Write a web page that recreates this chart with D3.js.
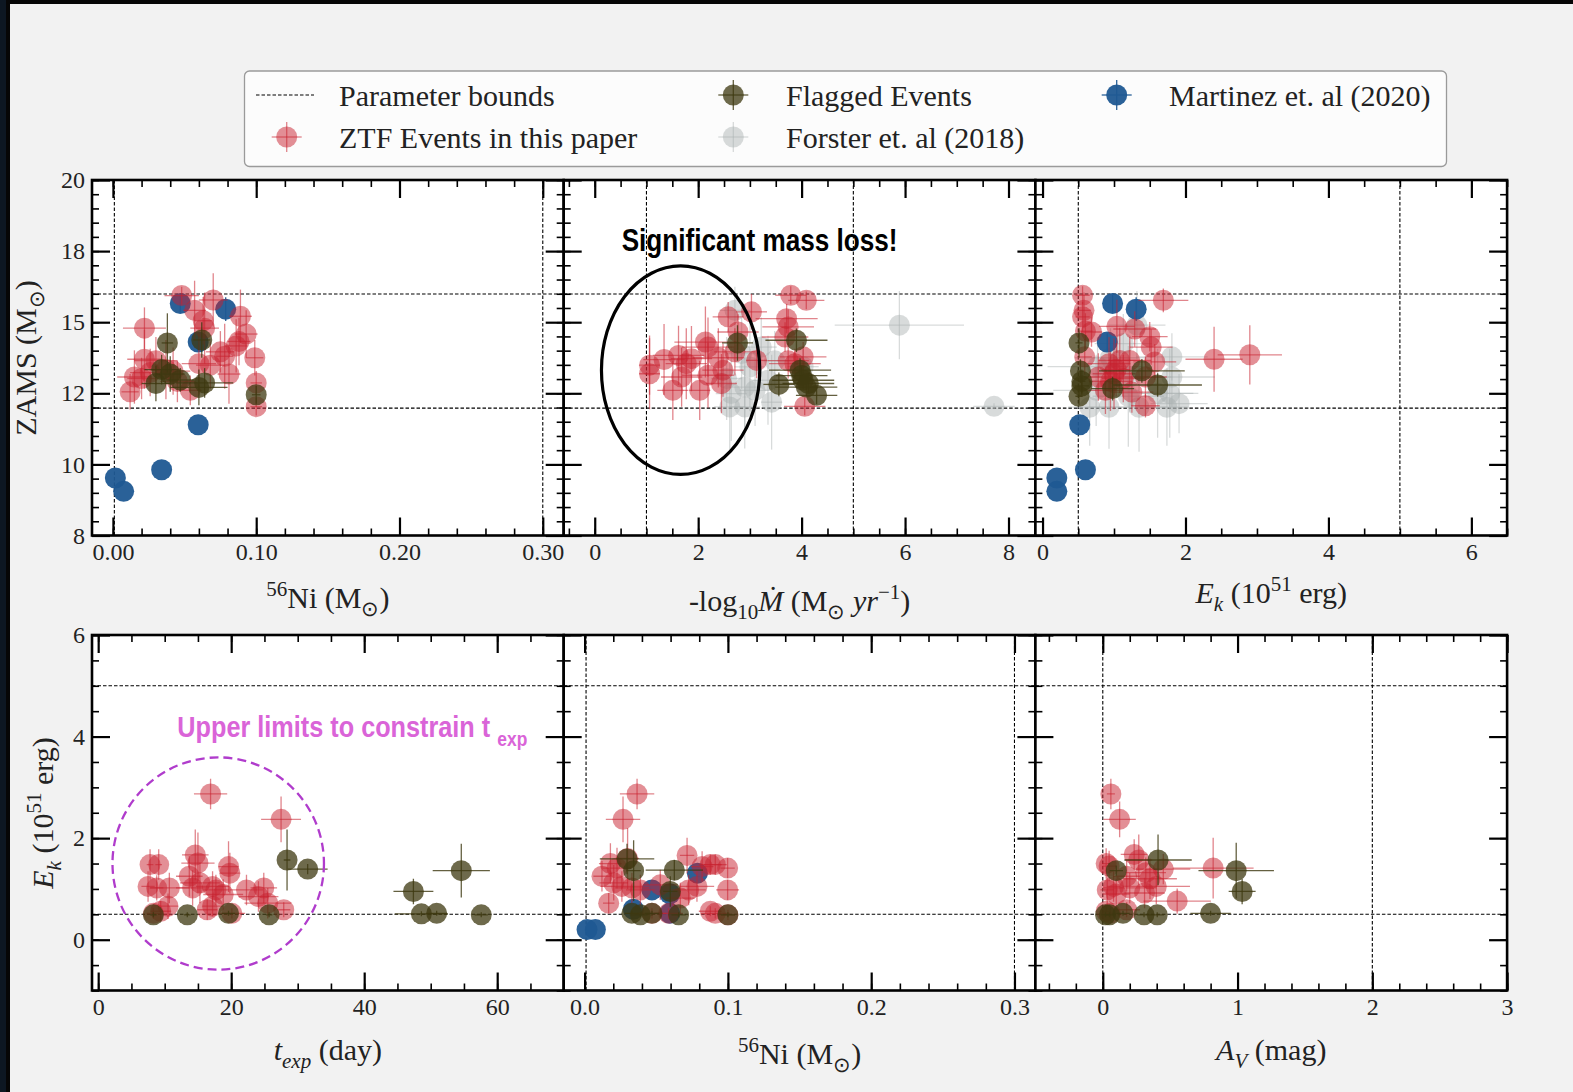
<!DOCTYPE html>
<html>
<head>
<meta charset="utf-8">
<script src="https://cdn.jsdelivr.net/npm/d3@7"></script>
<style>
  html, body { margin: 0; padding: 0; background: #f2f2f2; }
  svg { display: block; }
</style>
</head>
<body>
<svg id="fig" width="1573" height="1092"></svg>
<script>
// ---------------- data ----------------
// Martinez et al. (2020): one entry per event
const martinezNi      = [0.0017, 0.0075, 0.034, 0.0595, 0.047, 0.0787, 0.0595];
const martinezZams    = [9.94, 9.49, 10.22, 11.74, 15.83, 15.64, 14.53];
const martinezZamsErr = [0, 0, 0, 0, 0.3, 0.4, 0.3];
const martinezEk      = [0.20, 0.20, 0.60, 0.52, 0.98, 1.31, 0.905];

// rows: [x, y, xErr, yErr]
// ZAMS vs 56Ni
const ztfNiZams = [
  [0.048, 16.1, 0.012, 0.3], [0.070, 15.95, 0.010, 0.9], [0.057, 15.6, 0.008, 1.0],
  [0.089, 15.4, 0.008, 0.9], [0.022, 15.0, 0.015, 0.7], [0.064, 15.0, 0.010, 1.2],
  [0.093, 14.8, 0.008, 0.8], [0.088, 14.55, 0.008, 0.8], [0.075, 14.2, 0.010, 0.7],
  [0.022, 13.95, 0.012, 1.0], [0.030, 13.9, 0.015, 0.8], [0.099, 14.0, 0.006, 0.6],
  [0.060, 13.8, 0.012, 1.0], [0.068, 13.75, 0.010, 0.8], [0.078, 14.05, 0.006, 1.1],
  [0.081, 13.45, 0.008, 1.0], [0.015, 13.35, 0.012, 0.9], [0.037, 13.6, 0.010, 1.0],
  [0.042, 13.55, 0.012, 0.8], [0.012, 12.85, 0.006, 0.6], [0.054, 12.9, 0.008, 0.5],
  [0.100, 13.15, 0.004, 0.4], [0.100, 12.35, 0.004, 0.3], [0.026, 13.5, 0.014, 0.8],
  [0.020, 13.3, 0.010, 0.7], [0.045, 13.2, 0.012, 0.7], [0.086, 14.4, 0.008, 0.9],
  [0.063, 15.25, 0.006, 0.8]
];
const flaggedNiZams = [
  [0.038, 14.5, 0.004, 1.0], [0.062, 14.6, 0.006, 0.6], [0.034, 13.6, 0.012, 0.5],
  [0.030, 13.13, 0.010, 0.6], [0.047, 13.25, 0.010, 0.4], [0.060, 13.0, 0.020, 0.6],
  [0.064, 13.15, 0.020, 0.5], [0.100, 12.75, 0.003, 0.3], [0.040, 13.45, 0.010, 0.6]
];

// ZAMS vs -log10 Mdot
const ztfMdotZams = [
  [3.79, 16.11, 0.3, 0.3], [4.09, 15.94, 0.35, 0.3], [3.03, 15.55, 0.3, 0.6],
  [2.58, 15.38, 0.3, 0.5], [3.71, 15.32, 0.6, 0.5], [3.74, 15.04, 0.5, 0.6],
  [2.77, 14.87, 0.4, 0.6], [3.68, 14.70, 0.45, 0.5], [2.14, 14.53, 0.6, 1.2],
  [2.19, 14.36, 0.5, 1.0], [2.71, 14.2, 0.4, 0.8], [1.34, 13.94, 0.4, 1.2],
  [1.62, 14.08, 0.5, 1.0], [1.87, 13.97, 0.4, 1.1], [2.39, 14.0, 0.5, 1.0],
  [3.13, 13.91, 0.2, 0.6], [4.03, 14.03, 0.45, 0.5], [3.74, 13.9, 0.4, 0.6],
  [1.06, 13.75, 0.2, 1.0], [1.06, 13.46, 0.2, 1.2], [1.77, 13.8, 0.4, 1.2],
  [1.68, 13.35, 0.4, 1.0], [2.19, 13.41, 0.5, 1.1], [2.48, 13.58, 0.4, 0.9],
  [2.45, 13.13, 0.3, 1.0], [1.51, 12.9, 0.3, 1.0], [2.03, 12.9, 0.2, 1.0],
  [4.06, 12.36, 0.4, 0.3], [3.87, 13.8, 0.5, 0.5]
];
const flaggedMdotZams = [
  [2.76, 14.5, 0.3, 0.6], [3.90, 14.59, 0.6, 0.4], [3.56, 13.1, 0.3, 0.4],
  [3.97, 13.58, 0.6, 0.4], [4.03, 13.24, 0.6, 0.3], [4.09, 13.01, 0.6, 0.3],
  [4.29, 12.73, 0.4, 0.3], [4.00, 13.4, 0.5, 0.3], [4.13, 13.13, 0.5, 0.3]
];
const forsterMdotZams = [
  [5.89, 15.1, 1.25, 1.15], [7.72, 12.36, 0.4, 0.1],
  [2.71, 15.6, 0.3, 0.8], [2.84, 14.14, 0.3, 1.2], [3.00, 13.69, 0.3, 1.5],
  [3.22, 14.36, 0.3, 1.0], [3.35, 13.24, 0.3, 1.5], [2.90, 13.01, 0.3, 1.5],
  [2.64, 12.79, 0.3, 1.6], [2.61, 12.34, 0.3, 1.5], [2.90, 12.34, 0.3, 1.4],
  [3.42, 12.5, 0.2, 1.6], [3.10, 12.9, 0.3, 1.2], [3.48, 13.9, 0.3, 1.0],
  [4.03, 13.7, 0.3, 0.6], [2.55, 13.3, 0.3, 1.4]
];

// ZAMS vs Ek
const ztfEkZams = [
  [0.56, 16.11, 0.1, 0.3], [1.69, 15.94, 0.35, 0.4], [0.58, 15.6, 0.1, 0.6],
  [0.56, 15.38, 0.1, 0.5], [0.685, 14.87, 0.15, 0.5], [1.04, 15.06, 0.25, 0.9],
  [1.29, 14.97, 0.3, 0.6], [1.50, 14.71, 0.25, 0.5], [1.52, 14.36, 0.3, 0.6],
  [0.59, 14.03, 0.1, 0.6], [2.40, 13.95, 0.4, 1.1], [2.90, 14.1, 0.45, 1.0],
  [0.93, 13.8, 0.3, 0.9], [1.08, 13.91, 0.3, 1.1], [1.22, 13.91, 0.3, 0.8],
  [1.57, 13.86, 0.3, 0.6], [0.78, 13.35, 0.2, 0.8], [1.00, 13.46, 0.3, 1.2],
  [1.13, 13.3, 0.3, 0.8], [0.88, 12.9, 0.25, 0.8], [1.25, 12.84, 0.3, 0.7],
  [1.44, 13.35, 0.3, 0.7], [1.44, 12.38, 0.2, 0.4], [1.03, 13.6, 0.2, 0.9],
  [0.60, 14.9, 0.1, 0.6], [0.95, 13.2, 0.3, 1.0]
];
const flaggedEkZams = [
  [0.51, 14.5, 0.05, 0.5], [0.53, 13.55, 0.05, 0.4], [0.55, 13.2, 0.05, 0.4],
  [0.51, 12.7, 0.05, 0.3], [0.98, 12.96, 0.3, 0.4], [1.39, 13.56, 0.6, 0.4],
  [1.61, 13.08, 0.62, 0.4], [0.55, 13.05, 0.1, 0.3]
];
const forsterEkZams = [
  [0.66, 12.33, 0.3, 1.3], [0.93, 12.33, 0.3, 1.4], [1.35, 12.33, 0.4, 1.5],
  [1.74, 12.33, 0.3, 1.3], [1.91, 12.45, 0.4, 1.0], [1.81, 14.03, 0.5, 0.8],
  [1.81, 13.35, 0.6, 1.0], [1.61, 12.8, 0.5, 1.5], [1.22, 13.35, 0.6, 1.2],
  [1.13, 14.48, 0.4, 1.0], [0.75, 12.9, 0.6, 1.2], [1.32, 15.1, 0.4, 1.15],
  [0.77, 13.7, 0.7, 1.0], [1.78, 12.8, 0.4, 1.5], [0.95, 14.0, 0.5, 1.0],
  [1.20, 12.7, 0.5, 1.7]
];

// Ek vs t_exp
const ztfTexpEk = [
  [16.9, 2.87, 2.5, 0.3], [27.5, 2.37, 3.0, 0.45], [7.8, 1.48, 0.5, 0.3],
  [9.1, 1.48, 0.5, 0.3], [14.6, 1.67, 2.0, 0.5], [15.0, 1.51, 2.5, 0.6],
  [19.6, 1.44, 1.5, 0.5], [19.8, 1.31, 1.5, 0.4], [7.5, 1.05, 1.0, 0.3],
  [8.8, 1.02, 1.0, 0.25], [10.7, 1.02, 3.0, 0.3], [13.7, 1.25, 2.0, 0.4],
  [14.2, 1.02, 2.5, 0.35], [15.3, 1.12, 3.0, 0.4], [17.2, 1.05, 2.5, 0.3],
  [17.7, 0.98, 2.0, 0.3], [18.8, 0.89, 3.0, 0.3], [22.3, 0.98, 2.5, 0.3],
  [24.9, 1.02, 2.0, 0.3], [24.1, 0.85, 3.0, 0.3], [25.5, 0.72, 3.5, 0.3],
  [10.5, 0.66, 1.5, 0.25], [9.4, 0.56, 1.5, 0.2], [16.4, 0.59, 1.5, 0.2],
  [17.2, 0.66, 1.5, 0.2], [27.9, 0.59, 1.0, 0.15], [20.1, 0.52, 2.0, 0.1],
  [8.3, 0.52, 1.0, 0.1]
];
const flaggedTexpEk = [
  [8.3, 0.49, 0.5, 0.05], [13.4, 0.49, 0.5, 0.05], [19.6, 0.52, 1.0, 0.05],
  [25.7, 0.49, 0.5, 0.05], [28.4, 1.57, 0.5, 0.6], [31.5, 1.39, 3.0, 0.1],
  [47.4, 0.95, 3.0, 0.25], [48.6, 0.51, 4.0, 0.05], [50.9, 0.52, 1.5, 0.05],
  [54.6, 1.36, 4.3, 0.53], [57.6, 0.49, 1.0, 0.05]
];

// Ek vs 56Ni
const ztfNiEk = [
  [0.0366, 2.87, 0.012, 0.3], [0.0268, 2.37, 0.012, 0.45], [0.0715, 1.66, 0.005, 0.35],
  [0.0121, 1.25, 0.006, 0.3], [0.0168, 0.72, 0.004, 0.2], [0.0226, 1.41, 0.010, 0.4],
  [0.0203, 1.12, 0.010, 0.35], [0.0260, 1.05, 0.015, 0.3], [0.0330, 1.02, 0.012, 0.3],
  [0.0389, 0.98, 0.010, 0.3], [0.0528, 1.08, 0.012, 0.3], [0.0668, 0.82, 0.010, 0.3],
  [0.0726, 0.98, 0.012, 0.3], [0.0784, 1.05, 0.012, 0.3], [0.0820, 1.44, 0.008, 0.3],
  [0.0877, 1.48, 0.008, 0.2], [0.0912, 1.48, 0.008, 0.2], [0.0998, 1.41, 0.005, 0.2],
  [0.0998, 0.98, 0.008, 0.2], [0.0877, 0.56, 0.008, 0.1], [0.0912, 0.52, 0.010, 0.1],
  [0.1000, 0.49, 0.005, 0.1], [0.0470, 0.52, 0.010, 0.1], [0.0586, 0.52, 0.010, 0.1],
  [0.0180, 1.50, 0.008, 0.4], [0.0300, 1.60, 0.008, 0.6]
];
const flaggedNiEk = [
  [0.0296, 1.59, 0.019, 0.3], [0.0342, 1.36, 0.005, 0.6], [0.0626, 1.37, 0.020, 0.2],
  [0.0598, 0.95, 0.005, 0.3], [0.0330, 0.52, 0.005, 0.05], [0.0389, 0.49, 0.005, 0.05],
  [0.0656, 0.49, 0.005, 0.05], [0.1000, 0.49, 0.005, 0.05], [0.0470, 0.52, 0.005, 0.05]
];

// Ek vs A_V
const ztfAvEk = [
  [0.060, 2.87, 0.03, 0.3], [0.125, 2.37, 0.12, 0.35], [0.233, 1.68, 0.10, 0.3],
  [0.267, 1.57, 0.10, 0.5], [0.047, 1.45, 0.05, 0.3], [0.449, 1.39, 0.20, 0.3],
  [0.819, 1.41, 0.30, 0.6], [0.319, 1.32, 0.15, 0.3], [0.177, 1.25, 0.10, 0.3],
  [0.033, 0.98, 0.05, 0.3], [0.080, 1.05, 0.05, 0.3], [0.200, 1.02, 0.20, 0.3],
  [0.310, 0.92, 0.15, 0.3], [0.397, 1.05, 0.25, 0.35], [0.552, 0.76, 0.25, 0.25],
  [0.025, 0.56, 0.03, 0.1], [0.056, 0.52, 0.03, 0.1], [0.177, 0.59, 0.10, 0.15],
  [0.025, 1.50, 0.03, 0.3], [0.100, 0.90, 0.10, 0.3], [0.350, 1.20, 0.20, 0.4]
];
const flaggedAvEk = [
  [0.410, 1.57, 0.25, 0.5], [0.990, 1.36, 0.28, 0.55], [1.034, 0.95, 0.10, 0.25],
  [0.800, 0.52, 0.15, 0.05], [0.306, 0.49, 0.05, 0.05], [0.404, 0.49, 0.05, 0.05],
  [0.150, 0.52, 0.05, 0.05], [0.020, 0.49, 0.03, 0.05], [0.100, 1.36, 0.05, 0.1],
  [0.050, 0.49, 0.03, 0.05]
];

// axis limits, ticks and parameter bounds
const niDomain   = [-0.0146, 0.3146];
const zamsDomain = [8, 20];
const mdotDomain = [-0.6, 8.52];
const ekXDomain  = [-0.1, 6.5];
const texpDomain = [-0.93, 70];
const ekDomain   = [-1, 6];
const avDomain   = [-0.5, 3.0];

const niTicks   = [0, 0.1, 0.2, 0.3];
const mdotTicks = [0, 2, 4, 6, 8];
const ekXTicks  = [0, 2, 4, 6];
const texpTicks = [0, 20, 40, 60];
const avTicks   = [0, 1, 2, 3];
const ekTicks   = [0, 2, 4, 6];
const zamsTicks = [8, 10.4, 12.8, 15.2, 17.6, 20];
const zamsTickLabels = ["8", "10", "12", "15", "18", "20"];

const niBounds   = [0.001, 0.3];
const zamsBounds = [12.3, 16.15];
const mdotBounds = [1, 5];
const ekBounds   = [0.5, 5];
const avBounds   = [0, 2];

const legendLabels = ["Parameter bounds", "ZTF Events in this paper", "Flagged Events",
                      "Forster et. al (2018)", "Martinez et. al (2020)"];

// ---------------- styles ----------------
const serif = "'Liberation Serif','Times New Roman',serif";
const sansBold = "'Liberation Sans',Arial,sans-serif";
const styles = {
  ztf:      { color: "#c8202e", alpha: 0.5,  lineAlpha: 0.55 },
  flagged:  { color: "#3d3810", alpha: 0.75, lineAlpha: 0.8 },
  forster:  { color: "#a9b0b0", alpha: 0.45, lineAlpha: 0.45 },
  martinez: { color: "#1f5892", alpha: 0.95, lineAlpha: 0.95 }
};
const R = 10.5;

const martinezNiZams = martinezNi.map((v, i) => [v, martinezZams[i], 0, martinezZamsErr[i]]);
const martinezEkZams = martinezEk.map((v, i) => [v, martinezZams[i], 0, martinezZamsErr[i]]);
const martinezNiEk   = martinezNi.map((v, i) => [v, martinezEk[i], 0, 0]);

// ---------------- layout ----------------
const plotLeft = 92, colW = 471.7, rowTop = [180, 635], rowH = 355.5;

const svg = d3.select("#fig");
svg.append("rect").attr("width", 1573).attr("height", 1092).attr("fill", "#0d1722");
svg.append("rect").attr("x", 6).attr("y", 0).attr("width", 1567).attr("height", 1092).attr("fill", "#060606");
svg.append("rect").attr("x", 10).attr("y", 4).attr("width", 1563).attr("height", 1088).attr("fill", "#f2f2f2");

// mixed-style text: parts are [string, flags] with flags among "i", "sub", "sup"
function rich(sel, parts, size) {
  let shift = 0;
  parts.forEach(([str, flags = ""]) => {
    const f = flags.split(" ");
    const isSub = f.includes("sub"), isSup = f.includes("sup");
    const target = isSub ? size * 0.25 : isSup ? -size * 0.4 : 0;
    sel.append("tspan").text(str)
      .attr("dy", target - shift)
      .attr("font-size", (isSub || isSup) ? size * 0.7 : size)
      .attr("font-style", f.includes("i") ? "italic" : "normal");
    shift = target;
  });
}

// bold condensed annotation: horizontally squeezed to a given width
function condensed(x0, y0, str, size, width, color) {
  const g = svg.append("g").attr("transform", `translate(${x0},${y0})`);
  const t = g.append("text").attr("font-family", sansBold).attr("font-weight", "bold")
    .attr("font-size", size).attr("fill", color).text(str);
  const natural = t.node().getComputedTextLength();
  t.attr("transform", `scale(${width / natural},1)`);
  return g;
}

const niTitle = [["56", "sup"], ["Ni (M"], ["\u2299", "sub"], [")"]];
const ekTitle = [["E", "i"], ["k", "i sub"], [" (10"], ["51", "sup"], [" erg)"]];

const panels = [
  { row: 0, col: 0, xDomain: niDomain, yDomain: zamsDomain, xTicks: niTicks, xFmt: d3.format(".2f"), xMinor: 0.02,
    yTicks: zamsTicks, yMinor: 0.48, yLabels: zamsTickLabels, xBounds: niBounds, yBounds: zamsBounds,
    title: niTitle, titleY: 608,
    series: [[martinezNiZams, "martinez"], [ztfNiZams, "ztf"], [flaggedNiZams, "flagged"]] },
  { row: 0, col: 1, xDomain: mdotDomain, yDomain: zamsDomain, xTicks: mdotTicks, xFmt: d3.format("d"), xMinor: 0.5,
    yTicks: zamsTicks, yMinor: 0.48, xBounds: mdotBounds, yBounds: zamsBounds,
    title: [["-log"], ["10", "sub"], ["\u1E40", "i"], [" (M"], ["\u2299", "sub"], [" "], ["yr", "i"], ["\u22121", "sup"], [")"]], titleY: 611,
    series: [[forsterMdotZams, "forster"], [ztfMdotZams, "ztf"], [flaggedMdotZams, "flagged"]] },
  { row: 0, col: 2, xDomain: ekXDomain, yDomain: zamsDomain, xTicks: ekXTicks, xFmt: d3.format("d"), xMinor: 0.5,
    yTicks: zamsTicks, yMinor: 0.48, xBounds: ekBounds, yBounds: zamsBounds,
    title: ekTitle, titleY: 603,
    series: [[forsterEkZams, "forster"], [martinezEkZams, "martinez"], [ztfEkZams, "ztf"], [flaggedEkZams, "flagged"]] },
  { row: 1, col: 0, xDomain: texpDomain, yDomain: ekDomain, xTicks: texpTicks, xFmt: d3.format("d"), xMinor: 5,
    yTicks: ekTicks, yMinor: 0.5, yLabels: ekTicks.map(String), xBounds: [], yBounds: ekBounds,
    title: [["t", "i"], ["exp", "i sub"], [" (day)"]], titleY: 1060,
    series: [[ztfTexpEk, "ztf"], [flaggedTexpEk, "flagged"]] },
  { row: 1, col: 1, xDomain: niDomain, yDomain: ekDomain, xTicks: niTicks, xFmt: d3.format(".1f"), xMinor: 0.02,
    yTicks: ekTicks, yMinor: 0.5, xBounds: niBounds, yBounds: ekBounds,
    title: niTitle, titleY: 1064,
    series: [[martinezNiEk, "martinez"], [ztfNiEk, "ztf"], [flaggedNiEk, "flagged"]] },
  { row: 1, col: 2, xDomain: avDomain, yDomain: ekDomain, xTicks: avTicks, xFmt: d3.format("d"), xMinor: 0.2,
    yTicks: ekTicks, yMinor: 0.5, xBounds: avBounds, yBounds: ekBounds,
    title: [["A", "i"], ["V", "i sub"], [" (mag)"]], titleY: 1060,
    series: [[ztfAvEk, "ztf"], [flaggedAvEk, "flagged"]] }
];

function minorTicks(domain, anchor, step) {
  const k0 = Math.ceil((domain[0] - anchor) / step - 1e-9);
  const k1 = Math.floor((domain[1] - anchor) / step + 1e-9);
  return d3.range(k0, k1 + 1).map(k => anchor + k * step);
}

function drawSeries(g, rows, st, x, y) {
  const sg = g.append("g");
  sg.selectAll("line.h").data(rows.filter(d => d[2] > 0)).join("line")
    .attr("x1", d => x(d[0] - d[2])).attr("x2", d => x(d[0] + d[2]))
    .attr("y1", d => y(d[1])).attr("y2", d => y(d[1]))
    .attr("stroke", st.color).attr("stroke-opacity", st.lineAlpha).attr("stroke-width", 1.3);
  sg.selectAll("line.v").data(rows.filter(d => d[3] > 0)).join("line")
    .attr("x1", d => x(d[0])).attr("x2", d => x(d[0]))
    .attr("y1", d => y(d[1] - d[3])).attr("y2", d => y(d[1] + d[3]))
    .attr("stroke", st.color).attr("stroke-opacity", st.lineAlpha).attr("stroke-width", 1.3);
  sg.selectAll("circle").data(rows).join("circle")
    .attr("cx", d => x(d[0])).attr("cy", d => y(d[1])).attr("r", R)
    .attr("fill", st.color).attr("fill-opacity", st.alpha);
}

function styleAxis(g, width) {
  g.select(".domain").remove();
  g.selectAll("line").attr("stroke", "#000").attr("stroke-width", width);
  g.selectAll("text").attr("font-family", serif).attr("font-size", 24).attr("fill", "#222");
}

panels.forEach((p, i) => {
  const left = plotLeft + p.col * colW, top = rowTop[p.row];
  const right = left + colW, bottom = top + rowH;
  const x = d3.scaleLinear().domain(p.xDomain).range([left, right]);
  const y = d3.scaleLinear().domain(p.yDomain).range([bottom, top]);
  p.x = x; p.y = y;

  const g = svg.append("g");
  g.append("rect").attr("x", left).attr("y", top).attr("width", colW).attr("height", rowH).attr("fill", "#fff");

  svg.append("clipPath").attr("id", "clip" + i).append("rect")
    .attr("x", left).attr("y", top).attr("width", colW).attr("height", rowH);
  const plot = g.append("g").attr("clip-path", `url(#clip${i})`);

  // parameter bounds
  plot.selectAll("line.xb").data(p.xBounds).join("line")
    .attr("x1", d => x(d)).attr("x2", d => x(d)).attr("y1", top).attr("y2", bottom);
  plot.selectAll("line.yb").data(p.yBounds).join("line")
    .attr("y1", d => y(d)).attr("y2", d => y(d)).attr("x1", left).attr("x2", right);
  plot.selectAll("line").attr("stroke", "#000").attr("stroke-width", 1.1).attr("stroke-dasharray", "3.5,2");

  p.series.forEach(([rows, key]) => drawSeries(plot, rows, styles[key], x, y));

  // ticks on all four sides, pointing inward
  const xMin = minorTicks(p.xDomain, p.xTicks[0], p.xMinor);
  const yMin = minorTicks(p.yDomain, p.yTicks[0], p.yMinor);
  const axes = [
    [d3.axisBottom(x).tickValues(p.xTicks).tickFormat(p.xFmt), `translate(0,${bottom})`, true],
    [d3.axisBottom(x).tickValues(xMin).tickFormat(""), `translate(0,${bottom})`, false],
    [d3.axisTop(x).tickValues(p.xTicks).tickFormat(""), `translate(0,${top})`, true],
    [d3.axisTop(x).tickValues(xMin).tickFormat(""), `translate(0,${top})`, false],
    [d3.axisLeft(y).tickValues(p.yTicks).tickFormat(p.yLabels ? (d, k) => p.yLabels[k] : ""), `translate(${left},0)`, true],
    [d3.axisLeft(y).tickValues(yMin).tickFormat(""), `translate(${left},0)`, false],
    [d3.axisRight(y).tickValues(p.yTicks).tickFormat(""), `translate(${right},0)`, true],
    [d3.axisRight(y).tickValues(yMin).tickFormat(""), `translate(${right},0)`, false]
  ];
  axes.forEach(([ax, tr, major]) => {
    ax.tickSize(major ? -18 : -7).tickPadding(major ? 7 : 0);
    const ag = g.append("g").attr("transform", tr).call(ax);
    styleAxis(ag, major ? 2.2 : 1.6);
  });
  g.selectAll("text").filter(function () { return this.textContent === ""; }).remove();

  // frame
  g.append("rect").attr("x", left).attr("y", top).attr("width", colW).attr("height", rowH)
    .attr("fill", "none").attr("stroke", "#000").attr("stroke-width", 2.6);

  // x-axis title
  const t = svg.append("text").attr("x", (left + right) / 2).attr("y", p.titleY)
    .attr("text-anchor", "middle").attr("font-family", serif).attr("fill", "#222");
  rich(t, p.title, 30);
});

// y-axis titles
const yt1 = svg.append("text").attr("transform", "translate(36,358) rotate(-90)")
  .attr("text-anchor", "middle").attr("font-family", serif).attr("fill", "#222");
rich(yt1, [["ZAMS (M"], ["\u2299", "sub"], [")"]], 30);
const yt2 = svg.append("text").attr("transform", "translate(53,813) rotate(-90)")
  .attr("text-anchor", "middle").attr("font-family", serif).attr("fill", "#222");
rich(yt2, ekTitle, 30);

// annotations
const pM = panels[1];
const ellC = [1.66, 13.58], ellR = [1.53, 3.52];
svg.append("ellipse")
  .attr("cx", pM.x(ellC[0])).attr("cy", pM.y(ellC[1]))
  .attr("rx", pM.x(ellC[0] + ellR[0]) - pM.x(ellC[0]))
  .attr("ry", pM.y(ellC[1]) - pM.y(ellC[1] + ellR[1]))
  .attr("fill", "none").attr("stroke", "#000").attr("stroke-width", 3.2);
condensed(pM.x(0.52), pM.y(17.61), "Significant mass loss!", 31, 276, "#000");

const pT = panels[3];
const circC = [18.05, 1.5], circR = [15.9, 2.09];
svg.append("ellipse")
  .attr("cx", pT.x(circC[0])).attr("cy", pT.y(circC[1]))
  .attr("rx", pT.x(circC[0] + circR[0]) - pT.x(circC[0]))
  .attr("ry", pT.y(circC[1]) - pT.y(circC[1] + circR[1]))
  .attr("fill", "none").attr("stroke", "#b03ccc").attr("stroke-width", 2.3).attr("stroke-dasharray", "9,5");
const upX = pT.x(11.9), upY = pT.y(4.0);
condensed(upX, upY, "Upper limits to constrain t", 29, 313, "#da64d8");
condensed(upX + 320, upY + 9, "exp", 20, 30, "#da64d8");

// legend
const lg = svg.append("g");
lg.append("rect").attr("x", 244.5).attr("y", 71).attr("width", 1202).attr("height", 95.5).attr("rx", 5)
  .attr("fill", "#fcfcfc").attr("stroke", "#9a9a9a").attr("stroke-width", 1.3);
lg.append("line").attr("x1", 256).attr("x2", 314).attr("y1", 95).attr("y2", 95)
  .attr("stroke", "#000").attr("stroke-width", 1.1).attr("stroke-dasharray", "3.5,2");
const legendItems = [
  { key: null,       mx: 285,    my: 95,  tx: 339,  ty: 106, label: legendLabels[0] },
  { key: "ztf",      mx: 286.7,  my: 137, tx: 339,  ty: 148, label: legendLabels[1] },
  { key: "flagged",  mx: 733.3,  my: 95,  tx: 786,  ty: 106, label: legendLabels[2] },
  { key: "forster",  mx: 733.3,  my: 137, tx: 786,  ty: 148, label: legendLabels[3] },
  { key: "martinez", mx: 1116.7, my: 95,  tx: 1169, ty: 106, label: legendLabels[4] }
];
legendItems.forEach(it => {
  if (it.key) {
    const st = styles[it.key];
    lg.append("line").attr("x1", it.mx - 15).attr("x2", it.mx + 15).attr("y1", it.my).attr("y2", it.my)
      .attr("stroke", st.color).attr("stroke-opacity", st.lineAlpha).attr("stroke-width", 1.3);
    lg.append("line").attr("x1", it.mx).attr("x2", it.mx).attr("y1", it.my - 15).attr("y2", it.my + 15)
      .attr("stroke", st.color).attr("stroke-opacity", st.lineAlpha).attr("stroke-width", 1.3);
    lg.append("circle").attr("cx", it.mx).attr("cy", it.my).attr("r", R)
      .attr("fill", st.color).attr("fill-opacity", st.alpha);
  }
  lg.append("text").attr("x", it.tx).attr("y", it.ty).attr("font-family", serif)
    .attr("font-size", 30).attr("fill", "#222").text(it.label);
});
</script>
</body>
</html>
